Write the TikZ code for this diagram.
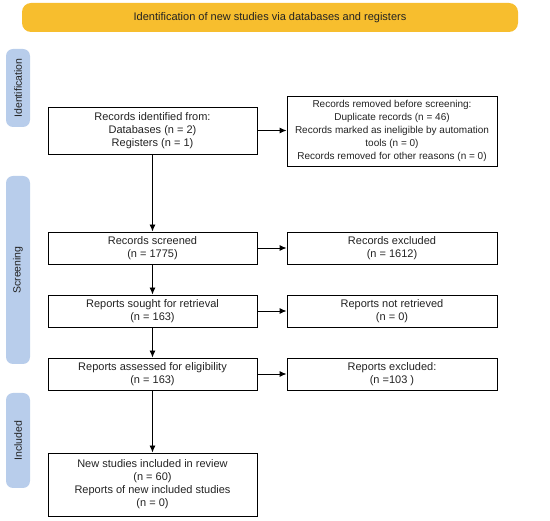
\documentclass[tikz,border=0pt]{standalone}
\usepackage{fontspec}
\setmainfont{Liberation Sans}
\usetikzlibrary{arrows.meta}
\definecolor{banner}{HTML}{F7BE2E}
\definecolor{sidebar}{HTML}{B8CDEB}
\definecolor{txt}{HTML}{222222}
\begin{document}
\begin{tikzpicture}[x=1pt,y=-1pt,
  box/.style={draw=black,line width=0.9pt,minimum width=209pt,inner sep=0pt,align=center,text=txt,font=\fontsize{11}{13}\selectfont},
  side/.style={fill=sidebar,rounded corners=7pt,minimum height=24pt,inner sep=0pt,text=txt,font=\fontsize{10.5}{12}\selectfont,rotate=90},
  arr/.style={-{Latex[length=7pt,width=6pt]},line width=0.9pt}]
\useasboundingbox (0,0) rectangle (550,521);
\node[fill=banner,rounded corners=9pt,minimum width=496pt,minimum height=29pt,inner sep=0pt,text=txt,font=\fontsize{11}{13}\selectfont] (top) at (270,17.5) {Identification of new studies via databases and registers};
\node[side,minimum width=78pt] (sid) at (18,88) {Identification};
\node[side,minimum width=188pt] (sscr) at (18,270) {Screening};
\node[side,minimum width=95pt] (sinc) at (18,440.5) {Included};
\node[box,minimum height=47pt] (ident) at (152.5,130.5) {Records identified from:\\Databases (n = 2)\\Registers (n = 1)};
\node[box,minimum height=70pt,minimum width=210pt,font=\fontsize{10}{13}\selectfont] (removed) at (392,131) {Records removed before screening:\\Duplicate records (n = 46)\\Records marked as ineligible by automation\\tools (n = 0)\\Records removed for other reasons (n = 0)};
\node[box,minimum height=32pt] (screen) at (152.5,248) {Records screened\\(n = 1775)};
\node[box,minimum height=32pt,minimum width=210pt] (excl) at (392,248) {Records excluded\\(n = 1612)};
\node[box,minimum height=32pt] (sought) at (152.5,311) {Reports sought for retrieval\\(n = 163)};
\node[box,minimum height=32pt,minimum width=210pt] (notret) at (392,311) {Reports not retrieved\\(n = 0)};
\node[box,minimum height=32pt] (assess) at (152.5,374) {Reports assessed for eligibility\\(n = 163)};
\node[box,minimum height=32pt,minimum width=210pt] (rexcl) at (392,374) {Reports excluded:\\(n =103 )};
\node[box,minimum height=63pt] (incl) at (152.5,484.5) {New studies included in review\\(n = 60)\\Reports of new included studies\\(n = 0)};
\draw[arr] (ident) -- (screen);
\draw[arr] (screen) -- (sought);
\draw[arr] (sought) -- (assess);
\draw[arr] (assess) -- (incl);
\draw[arr] (ident.east) -- (removed.west|-ident.east);
\draw[arr] (screen) -- (excl);
\draw[arr] (sought) -- (notret);
\draw[arr] (assess) -- (rexcl);
\end{tikzpicture}
\end{document}
